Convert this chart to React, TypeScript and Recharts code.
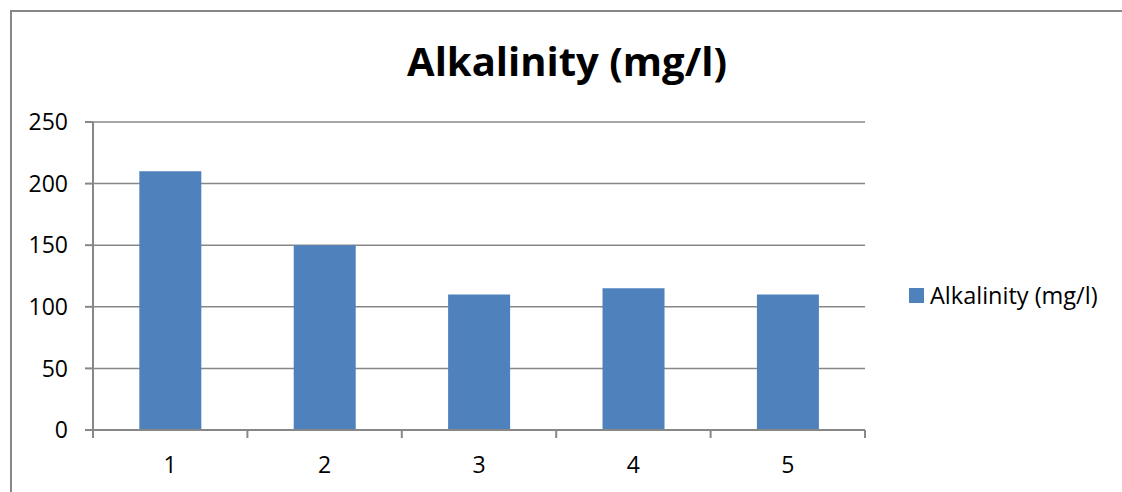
import React from 'react';
import { BarChart, Bar, XAxis, YAxis, CartesianGrid, Legend } from 'recharts';

const seriesName = 'Alkalinity (mg/l)';
const categories = [1, 2, 3, 4, 5];
const alkalinity = [210, 150, 110, 115, 110];
const yTicks = [0, 50, 100, 150, 200, 250];
const xTicks = [0.5, 1, 1.5, 2, 2.5, 3, 3.5, 4, 4.5, 5, 5.5];

const data = categories.map((c, i) => ({ x: c, value: alkalinity[i] }));

const FONT = '"Open Sans", Calibri, sans-serif';
const GRAY = '#878787';

const XTick = (props: any) => {
  const { x, y, payload } = props;
  const v = payload.value;
  if (Number.isInteger(v)) {
    return (
      <text x={x} y={y + 35} textAnchor="middle" fontFamily={FONT} fontSize={23} fill="#000">
        {v}
      </text>
    );
  }
  return <line x1={x} x2={x} y1={y - 8} y2={y} stroke={GRAY} strokeWidth={2} />;
};

const LegendContent = (props: any) => {
  const { payload } = props;
  return (
    <div>
      {(payload || []).map((entry: any, i: number) => (
        <div key={i} style={{ display: 'flex', alignItems: 'center', fontFamily: FONT, fontSize: 23.5, color: '#000' }}>
          <span style={{ display: 'inline-block', width: 15, height: 15, background: entry.color, marginRight: 6 }} />
          <span>{entry.value}</span>
        </div>
      ))}
    </div>
  );
};

export default function App() {
  return (
    <div style={{ position: 'absolute', left: 0, top: 0, width: 1122, height: 492, overflow: 'hidden', background: '#fff' }}>
      <div
        style={{
          position: 'absolute',
          left: 10,
          top: 10,
          width: 1120,
          height: 490,
          borderLeft: `2px solid ${GRAY}`,
          borderTop: `2px solid ${GRAY}`,
        }}
      />
      <div
        style={{
          position: 'absolute',
          left: 0,
          width: 1134,
          top: 34,
          textAlign: 'center',
          fontFamily: FONT,
          fontWeight: 700,
          fontSize: 40,
          lineHeight: '54px',
          color: '#000',
        }}
      >
        {seriesName}
      </div>
      <div style={{ position: 'absolute', left: 0, top: 0 }}>
        <BarChart
          width={1122}
          height={492}
          data={data}
          margin={{ top: 122, right: 257, bottom: 0, left: 0 }}
          barCategoryGap="30%"
        >
          <CartesianGrid vertical={false} stroke={GRAY} strokeWidth={1.5} />
          <XAxis
            dataKey="x"
            type="number"
            domain={[0.5, 5.5]}
            ticks={xTicks}
            interval={0}
            height={62}
            tickLine={false}
            tickSize={8}
            tickMargin={0}
            axisLine={{ stroke: GRAY, strokeWidth: 2 }}
            tick={<XTick />}
          />
          <YAxis
            width={93}
            domain={[0, 250]}
            ticks={yTicks}
            interval={0}
            tickSize={8}
            tickMargin={17}
            axisLine={{ stroke: GRAY, strokeWidth: 2 }}
            tickLine={{ stroke: GRAY, strokeWidth: 2 }}
            tick={{ fontFamily: FONT, fontSize: 23, fill: '#000' }}
          />
          <Legend
            layout="horizontal"
            align="center"
            verticalAlign="middle"
            content={<LegendContent />}
            wrapperStyle={{ left: 909, top: 279, width: 220, height: 32 }}
          />
          <Bar dataKey="value" name={seriesName} fill="#4F81BD" isAnimationActive={false} />
        </BarChart>
      </div>
    </div>
  );
}
